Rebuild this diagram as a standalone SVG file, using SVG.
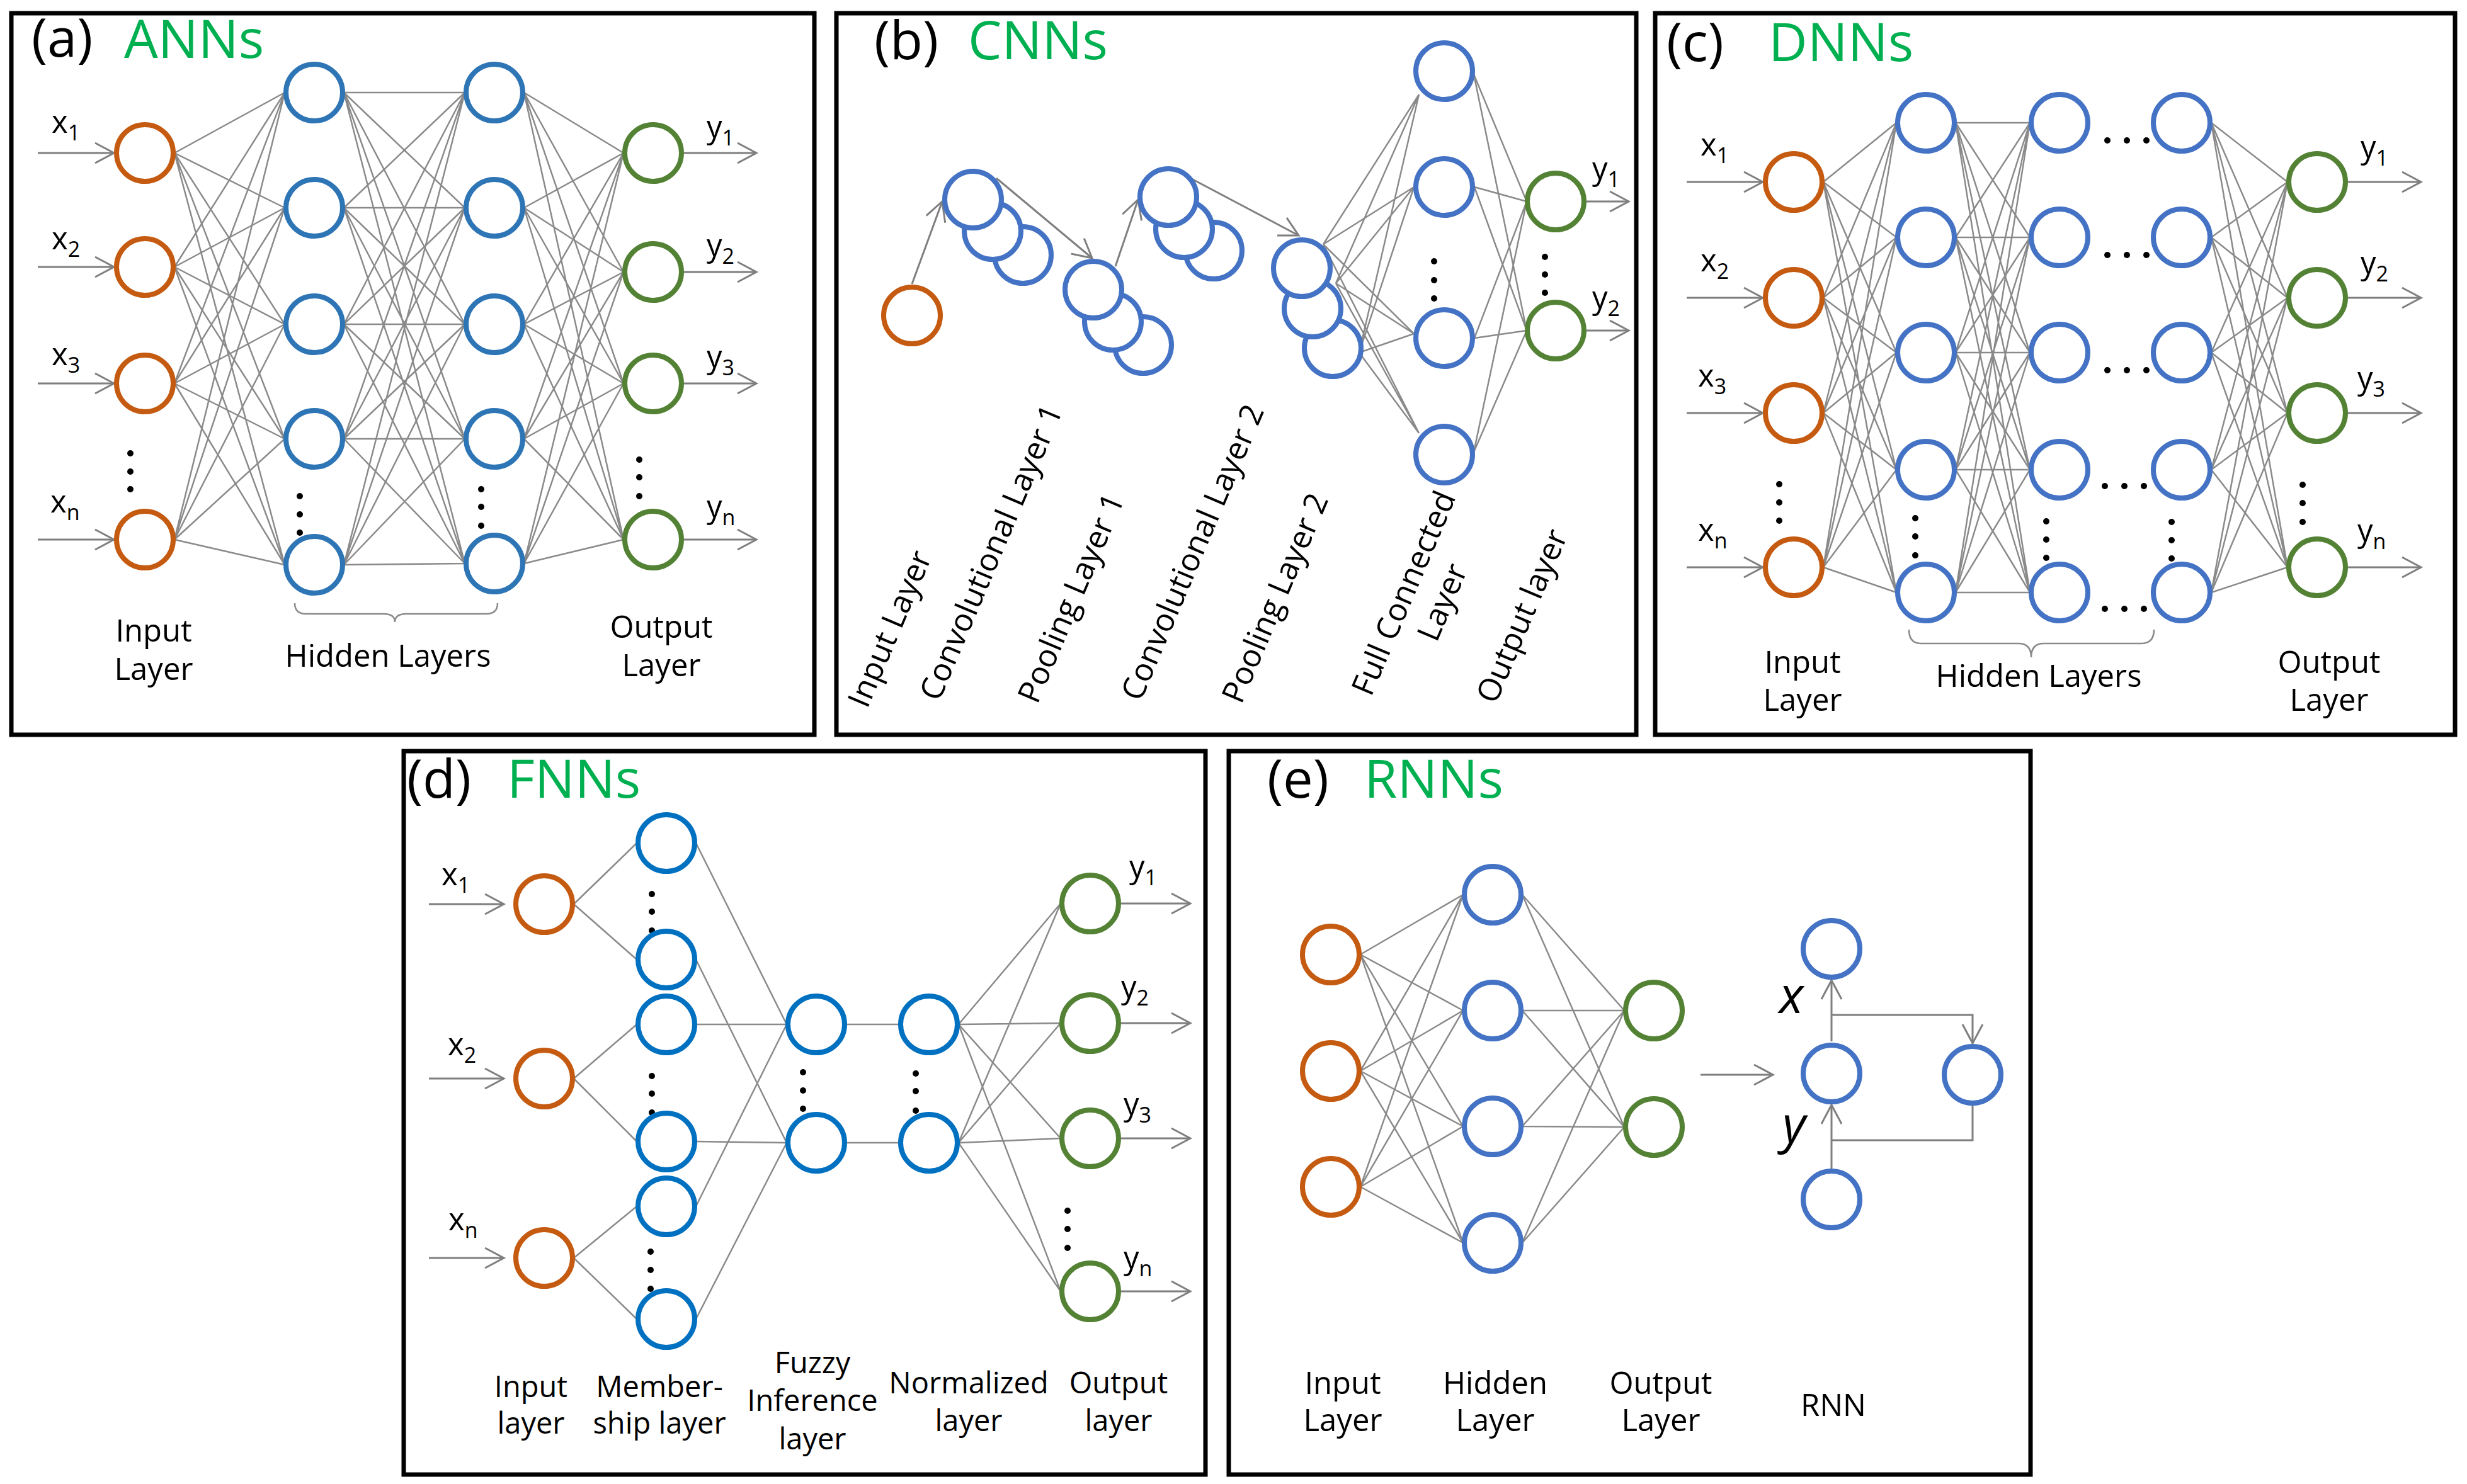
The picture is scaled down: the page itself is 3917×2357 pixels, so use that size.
<svg xmlns="http://www.w3.org/2000/svg" width="3917" height="2357" viewBox="0 0 3917 2357">
<defs>
<style>
.frame{fill:none;stroke:#000;stroke-width:7}
.n{fill:#fff;stroke-width:8}
.or{stroke:#C55A11}.ba{stroke:#2E75B6}.bl{stroke:#4472C4}.bd{stroke:#0070C0}.gr{stroke:#548235}
.ln{stroke:#8a8a8a;stroke-width:2.5;fill:none}
.ar{stroke:#7f7f7f;stroke-width:3;fill:none;marker-end:url(#ah)}
.pl{stroke:#7f7f7f;stroke-width:3;fill:none}
.t{font-family:"Open Sans","Noto Sans",sans-serif;font-size:49px;fill:#000}
.c{text-anchor:middle}
.sm{font-size:47px}
.ttl{font-size:85px}
.gt{fill:#00B050}
.sx{font-size:49px}
.it{font-style:italic;font-size:80px}
.rot{font-size:50px}
.dot{fill:#000}
</style>
<marker id="ah" markerUnits="userSpaceOnUse" markerWidth="40" markerHeight="40" refX="32" refY="18" orient="auto" viewBox="0 0 40 36">
<path d="M2 2L32 18L2 34" fill="none" stroke="#7f7f7f" stroke-width="3"/>
</marker>
</defs>
<rect width="3917" height="2357" fill="#fff"/>

<g id="frames">
<rect class="frame" x="18" y="21" width="1275" height="1146"/>
<rect class="frame" x="1328" y="21" width="1270" height="1146"/>
<rect class="frame" x="2628" y="21" width="1270" height="1146"/>
<rect class="frame" x="641" y="1193" width="1273" height="1149"/>
<rect class="frame" x="1951" y="1193" width="1273" height="1149"/>
</g>

<g id="connectors">
<!-- (a) -->
<path class="ln" d="M277 243L452 147M277 243L452 330M277 243L452 515M277 243L452 697M277 243L452 897M277 424L452 147M277 424L452 330M277 424L452 515M277 424L452 697M277 424L452 897M277 609L452 147M277 609L452 330M277 609L452 515M277 609L452 697M277 609L452 897M277 857L452 147M277 857L452 330M277 857L452 515M277 857L452 697M277 857L452 897"/>
<path class="ln" d="M546 147L738 147M546 147L738 330M546 147L738 515M546 147L738 697M546 147L738 895M546 330L738 147M546 330L738 330M546 330L738 515M546 330L738 697M546 330L738 895M546 515L738 147M546 515L738 330M546 515L738 515M546 515L738 697M546 515L738 895M546 697L738 147M546 697L738 330M546 697L738 515M546 697L738 697M546 697L738 895M546 897L738 147M546 897L738 330M546 897L738 515M546 897L738 697M546 897L738 895"/>
<path class="ln" d="M832 147L990 243M832 147L990 432M832 147L990 609M832 147L990 857M832 330L990 243M832 330L990 432M832 330L990 609M832 330L990 857M832 515L990 243M832 515L990 432M832 515L990 609M832 515L990 857M832 697L990 243M832 697L990 432M832 697L990 609M832 697L990 857M832 895L990 243M832 895L990 432M832 895L990 609M832 895L990 857"/>
<path class="ar" d="M60 243L181 243"/><path class="ar" d="M60 424L181 424"/><path class="ar" d="M60 609L181 609"/><path class="ar" d="M60 857L181 857"/>
<path class="ar" d="M1086 243L1201 243"/><path class="ar" d="M1086 432L1201 432"/><path class="ar" d="M1086 609L1201 609"/><path class="ar" d="M1086 857L1201 857"/>
<path class="ln" d="M468 958Q468 975 486 975L609 975Q627 975 627 988Q627 975 645 975L772 975Q790 975 790 958"/>
<!-- (b) -->
<path class="ar" d="M1448 451L1496 320"/>
<path class="ar" d="M1582 283L1734 410"/>
<path class="ar" d="M1771 423L1807 317"/>
<path class="ar" d="M1892 284L2062 374"/>
<path class="ln" d="M2101 388L2253 150M2101 388L2245 297M2101 388L2245 530M2101 388L2253 688M2121 450L2253 150M2121 450L2245 297M2121 450L2245 530M2121 450L2253 688M2158 560L2253 150M2158 560L2245 297M2158 560L2245 530M2158 560L2253 688"/>
<path class="ln" d="M2340 118L2424 320M2340 118L2424 525M2341 297L2424 320M2341 297L2424 525M2341 537L2424 320M2341 537L2424 525M2340 718L2424 320M2340 718L2424 525"/>
<path class="ar" d="M2519 320L2586 320"/><path class="ar" d="M2519 525L2586 525"/>
<!-- (c) -->
<path class="ln" d="M2895 289L3011 195M2895 289L3011 377M2895 289L3011 560M2895 289L3011 746M2895 289L3011 941M2895 473L3011 195M2895 473L3011 377M2895 473L3011 560M2895 473L3011 746M2895 473L3011 941M2895 656L3011 195M2895 656L3011 377M2895 656L3011 560M2895 656L3011 746M2895 656L3011 941M2895 901L3011 195M2895 901L3011 377M2895 901L3011 560M2895 901L3011 746M2895 901L3011 941"/>
<path class="ln" d="M3105 195L3223 195M3105 195L3223 377M3105 195L3223 560M3105 195L3223 746M3105 195L3223 941M3105 377L3223 195M3105 377L3223 377M3105 377L3223 560M3105 377L3223 746M3105 377L3223 941M3105 560L3223 195M3105 560L3223 377M3105 560L3223 560M3105 560L3223 746M3105 560L3223 941M3105 746L3223 195M3105 746L3223 377M3105 746L3223 560M3105 746L3223 746M3105 746L3223 941M3105 941L3223 195M3105 941L3223 377M3105 941L3223 560M3105 941L3223 746M3105 941L3223 941"/>
<path class="ln" d="M3511 195L3632 289M3511 195L3632 473M3511 195L3632 656M3511 195L3632 901M3511 377L3632 289M3511 377L3632 473M3511 377L3632 656M3511 377L3632 901M3511 560L3632 289M3511 560L3632 473M3511 560L3632 656M3511 560L3632 901M3511 746L3632 289M3511 746L3632 473M3511 746L3632 656M3511 746L3632 901M3511 941L3632 289M3511 941L3632 473M3511 941L3632 656M3511 941L3632 901"/>
<path class="ar" d="M2678 289L2799 289"/><path class="ar" d="M2678 473L2799 473"/><path class="ar" d="M2678 656L2799 656"/><path class="ar" d="M2678 901L2799 901"/>
<path class="ar" d="M3728 289L3844 289"/><path class="ar" d="M3728 473L3844 473"/><path class="ar" d="M3728 656L3844 656"/><path class="ar" d="M3728 901L3844 901"/>
<path class="ln" d="M3031 1000Q3031 1022 3050 1022L3205 1022Q3225 1022 3225 1044Q3225 1022 3245 1022L3400 1022Q3420 1022 3420 1000"/>
<!-- (d) -->
<path class="ln" d="M911 1436L1011 1339M911 1436L1011 1524M911 1713L1011 1627M911 1713L1011 1813M911 1998L1011 1916M911 1998L1011 2095"/>
<path class="ln" d="M1105 1339L1249 1627M1105 1524L1249 1815M1105 1627L1249 1627M1105 1813L1249 1815M1105 1916L1249 1627M1105 2095L1249 1815"/>
<path class="ln" d="M1343 1627L1428 1627M1343 1815L1428 1815"/>
<path class="ln" d="M1522 1627L1684 1435M1522 1627L1684 1625M1522 1627L1684 1808M1522 1627L1684 2051M1522 1815L1684 1435M1522 1815L1684 1625M1522 1815L1684 1808M1522 1815L1684 2051"/>
<path class="ar" d="M681 1436L800 1436"/><path class="ar" d="M681 1713L800 1713"/><path class="ar" d="M681 1998L800 1998"/>
<path class="ar" d="M1780 1435L1890 1435"/><path class="ar" d="M1780 1625L1890 1625"/><path class="ar" d="M1780 1808L1890 1808"/><path class="ar" d="M1780 2051L1890 2051"/>
<!-- (e) -->
<path class="ln" d="M2160 1516L2323 1421M2160 1516L2323 1605M2160 1516L2323 1789M2160 1516L2323 1974M2160 1701L2323 1421M2160 1701L2323 1605M2160 1701L2323 1789M2160 1701L2323 1974M2160 1885L2323 1421M2160 1885L2323 1605M2160 1885L2323 1789M2160 1885L2323 1974"/>
<path class="ln" d="M2417 1421L2579 1605M2417 1421L2579 1790M2417 1605L2579 1605M2417 1605L2579 1790M2417 1789L2579 1605M2417 1789L2579 1790M2417 1974L2579 1605M2417 1974L2579 1790"/>
<path class="ar" d="M2700 1707L2815 1707"/>
<path class="ar" d="M2908 1654L2908 1557"/>
<path class="ar" d="M2908 1612L3132 1612L3132 1657"/>
<path class="pl" d="M3132 1756L3132 1811L2908 1811"/>
<path class="ar" d="M2908 1857L2908 1755"/>
</g>

<g id="dots">
<circle class="dot" cx="207" cy="720" r="5"/><circle class="dot" cx="207" cy="749" r="5"/><circle class="dot" cx="207" cy="777" r="5"/>
<circle class="dot" cx="476" cy="788" r="5"/><circle class="dot" cx="476" cy="817" r="5"/><circle class="dot" cx="476" cy="846" r="5"/>
<circle class="dot" cx="764" cy="777" r="5"/><circle class="dot" cx="764" cy="805" r="5"/><circle class="dot" cx="764" cy="835" r="5"/>
<circle class="dot" cx="1015" cy="730" r="5"/><circle class="dot" cx="1015" cy="758" r="5"/><circle class="dot" cx="1015" cy="788" r="5"/>
<circle class="dot" cx="2277" cy="415" r="5"/><circle class="dot" cx="2277" cy="445" r="5"/><circle class="dot" cx="2277" cy="474" r="5"/>
<circle class="dot" cx="2453" cy="408" r="5"/><circle class="dot" cx="2453" cy="436" r="5"/><circle class="dot" cx="2453" cy="465" r="5"/>
<circle class="dot" cx="2825" cy="769" r="5"/><circle class="dot" cx="2825" cy="798" r="5"/><circle class="dot" cx="2825" cy="827" r="5"/>
<circle class="dot" cx="3041" cy="823" r="5"/><circle class="dot" cx="3041" cy="852" r="5"/><circle class="dot" cx="3041" cy="882" r="5"/>
<circle class="dot" cx="3249" cy="828" r="5"/><circle class="dot" cx="3249" cy="857" r="5"/><circle class="dot" cx="3249" cy="886" r="5"/>
<circle class="dot" cx="3448" cy="829" r="5"/><circle class="dot" cx="3448" cy="858" r="5"/><circle class="dot" cx="3448" cy="887" r="5"/>
<circle class="dot" cx="3656" cy="770" r="5"/><circle class="dot" cx="3656" cy="799" r="5"/><circle class="dot" cx="3656" cy="829" r="5"/>
<circle class="dot" cx="3346" cy="223" r="5"/><circle class="dot" cx="3377" cy="223" r="5"/><circle class="dot" cx="3408" cy="223" r="5"/>
<circle class="dot" cx="3346" cy="405" r="5"/><circle class="dot" cx="3377" cy="405" r="5"/><circle class="dot" cx="3408" cy="405" r="5"/>
<circle class="dot" cx="3346" cy="588" r="5"/><circle class="dot" cx="3377" cy="588" r="5"/><circle class="dot" cx="3408" cy="588" r="5"/>
<circle class="dot" cx="3342" cy="772" r="5"/><circle class="dot" cx="3373" cy="772" r="5"/><circle class="dot" cx="3404" cy="772" r="5"/>
<circle class="dot" cx="3342" cy="967" r="5"/><circle class="dot" cx="3373" cy="967" r="5"/><circle class="dot" cx="3404" cy="967" r="5"/>
<circle class="dot" cx="1035" cy="1420" r="5"/><circle class="dot" cx="1035" cy="1448" r="5"/><circle class="dot" cx="1035" cy="1478" r="5"/>
<circle class="dot" cx="1035" cy="1709" r="5"/><circle class="dot" cx="1035" cy="1737" r="5"/><circle class="dot" cx="1035" cy="1767" r="5"/>
<circle class="dot" cx="1033" cy="1988" r="5"/><circle class="dot" cx="1033" cy="2017" r="5"/><circle class="dot" cx="1033" cy="2047" r="5"/>
<circle class="dot" cx="1275" cy="1703" r="5"/><circle class="dot" cx="1275" cy="1732" r="5"/><circle class="dot" cx="1275" cy="1761" r="5"/>
<circle class="dot" cx="1454" cy="1705" r="5"/><circle class="dot" cx="1454" cy="1733" r="5"/><circle class="dot" cx="1454" cy="1764" r="5"/>
<circle class="dot" cx="1695" cy="1923" r="5"/><circle class="dot" cx="1695" cy="1952" r="5"/><circle class="dot" cx="1695" cy="1982" r="5"/>
</g>

<!-- (a) nodes -->
<g id="a-in1"><circle class="n or" cx="230" cy="243" r="45"/></g>
<g id="a-in2"><circle class="n or" cx="230" cy="424" r="45"/></g>
<g id="a-in3"><circle class="n or" cx="230" cy="609" r="45"/></g>
<g id="a-in4"><circle class="n or" cx="230" cy="857" r="45"/></g>
<g id="a-h1-1"><circle class="n ba" cx="499" cy="147" r="45"/></g>
<g id="a-h1-2"><circle class="n ba" cx="499" cy="330" r="45"/></g>
<g id="a-h1-3"><circle class="n ba" cx="499" cy="515" r="45"/></g>
<g id="a-h1-4"><circle class="n ba" cx="499" cy="697" r="45"/></g>
<g id="a-h1-5"><circle class="n ba" cx="499" cy="897" r="45"/></g>
<g id="a-h2-1"><circle class="n ba" cx="785" cy="147" r="45"/></g>
<g id="a-h2-2"><circle class="n ba" cx="785" cy="330" r="45"/></g>
<g id="a-h2-3"><circle class="n ba" cx="785" cy="515" r="45"/></g>
<g id="a-h2-4"><circle class="n ba" cx="785" cy="697" r="45"/></g>
<g id="a-h2-5"><circle class="n ba" cx="785" cy="895" r="45"/></g>
<g id="a-out1"><circle class="n gr" cx="1037" cy="243" r="45"/></g>
<g id="a-out2"><circle class="n gr" cx="1037" cy="432" r="45"/></g>
<g id="a-out3"><circle class="n gr" cx="1037" cy="609" r="45"/></g>
<g id="a-out4"><circle class="n gr" cx="1037" cy="857" r="45"/></g>

<!-- (b) nodes -->
<g id="b-in"><circle class="n or" cx="1448" cy="501" r="45"/></g>
<g id="b-conv1"><circle class="n bl" cx="1624" cy="405" r="45"/><circle class="n bl" cx="1576" cy="367" r="45"/><circle class="n bl" cx="1545" cy="317" r="45"/></g>
<g id="b-pool1"><circle class="n bl" cx="1815" cy="548" r="45"/><circle class="n bl" cx="1767" cy="511" r="45"/><circle class="n bl" cx="1736" cy="460" r="45"/></g>
<g id="b-conv2"><circle class="n bl" cx="1927" cy="398" r="45"/><circle class="n bl" cx="1880" cy="364" r="45"/><circle class="n bl" cx="1855" cy="313" r="45"/></g>
<g id="b-pool2"><circle class="n bl" cx="2116" cy="553" r="45"/><circle class="n bl" cx="2084" cy="490" r="45"/><circle class="n bl" cx="2067" cy="426" r="45"/></g>
<g id="b-fc1"><circle class="n bl" cx="2293" cy="113" r="45"/></g>
<g id="b-fc2"><circle class="n bl" cx="2293" cy="297" r="45"/></g>
<g id="b-fc3"><circle class="n bl" cx="2293" cy="537" r="45"/></g>
<g id="b-fc4"><circle class="n bl" cx="2293" cy="722" r="45"/></g>
<g id="b-out1"><circle class="n gr" cx="2470" cy="320" r="45"/></g>
<g id="b-out2"><circle class="n gr" cx="2470" cy="525" r="45"/></g>

<!-- (c) nodes -->
<g id="c-in1"><circle class="n or" cx="2848" cy="289" r="45"/></g>
<g id="c-in2"><circle class="n or" cx="2848" cy="473" r="45"/></g>
<g id="c-in3"><circle class="n or" cx="2848" cy="656" r="45"/></g>
<g id="c-in4"><circle class="n or" cx="2848" cy="901" r="45"/></g>
<g id="c-h1-1"><circle class="n bl" cx="3058" cy="195" r="45"/></g>
<g id="c-h1-2"><circle class="n bl" cx="3058" cy="377" r="45"/></g>
<g id="c-h1-3"><circle class="n bl" cx="3058" cy="560" r="45"/></g>
<g id="c-h1-4"><circle class="n bl" cx="3058" cy="746" r="45"/></g>
<g id="c-h1-5"><circle class="n bl" cx="3058" cy="941" r="45"/></g>
<g id="c-h2-1"><circle class="n bl" cx="3270" cy="195" r="45"/></g>
<g id="c-h2-2"><circle class="n bl" cx="3270" cy="377" r="45"/></g>
<g id="c-h2-3"><circle class="n bl" cx="3270" cy="560" r="45"/></g>
<g id="c-h2-4"><circle class="n bl" cx="3270" cy="746" r="45"/></g>
<g id="c-h2-5"><circle class="n bl" cx="3270" cy="941" r="45"/></g>
<g id="c-h3-1"><circle class="n bl" cx="3464" cy="195" r="45"/></g>
<g id="c-h3-2"><circle class="n bl" cx="3464" cy="377" r="45"/></g>
<g id="c-h3-3"><circle class="n bl" cx="3464" cy="560" r="45"/></g>
<g id="c-h3-4"><circle class="n bl" cx="3464" cy="746" r="45"/></g>
<g id="c-h3-5"><circle class="n bl" cx="3464" cy="941" r="45"/></g>
<g id="c-out1"><circle class="n gr" cx="3679" cy="289" r="45"/></g>
<g id="c-out2"><circle class="n gr" cx="3679" cy="473" r="45"/></g>
<g id="c-out3"><circle class="n gr" cx="3679" cy="656" r="45"/></g>
<g id="c-out4"><circle class="n gr" cx="3679" cy="901" r="45"/></g>

<!-- (d) nodes -->
<g id="d-in1"><circle class="n or" cx="864" cy="1436" r="45"/></g>
<g id="d-in2"><circle class="n or" cx="864" cy="1713" r="45"/></g>
<g id="d-in3"><circle class="n or" cx="864" cy="1998" r="45"/></g>
<g id="d-m1"><circle class="n bd" cx="1058" cy="1339" r="45"/></g>
<g id="d-m2"><circle class="n bd" cx="1058" cy="1524" r="45"/></g>
<g id="d-m3"><circle class="n bd" cx="1058" cy="1627" r="45"/></g>
<g id="d-m4"><circle class="n bd" cx="1058" cy="1813" r="45"/></g>
<g id="d-m5"><circle class="n bd" cx="1058" cy="1916" r="45"/></g>
<g id="d-m6"><circle class="n bd" cx="1058" cy="2095" r="45"/></g>
<g id="d-f1"><circle class="n bd" cx="1296" cy="1627" r="45"/></g>
<g id="d-f2"><circle class="n bd" cx="1296" cy="1815" r="45"/></g>
<g id="d-n1"><circle class="n bd" cx="1475" cy="1627" r="45"/></g>
<g id="d-n2"><circle class="n bd" cx="1475" cy="1815" r="45"/></g>
<g id="d-out1"><circle class="n gr" cx="1731" cy="1435" r="45"/></g>
<g id="d-out2"><circle class="n gr" cx="1731" cy="1625" r="45"/></g>
<g id="d-out3"><circle class="n gr" cx="1731" cy="1808" r="45"/></g>
<g id="d-out4"><circle class="n gr" cx="1731" cy="2051" r="45"/></g>

<!-- (e) nodes -->
<g id="e-in1"><circle class="n or" cx="2113" cy="1516" r="45"/></g>
<g id="e-in2"><circle class="n or" cx="2113" cy="1701" r="45"/></g>
<g id="e-in3"><circle class="n or" cx="2113" cy="1885" r="45"/></g>
<g id="e-h1"><circle class="n bl" cx="2370" cy="1421" r="45"/></g>
<g id="e-h2"><circle class="n bl" cx="2370" cy="1605" r="45"/></g>
<g id="e-h3"><circle class="n bl" cx="2370" cy="1789" r="45"/></g>
<g id="e-h4"><circle class="n bl" cx="2370" cy="1974" r="45"/></g>
<g id="e-out1"><circle class="n gr" cx="2626" cy="1605" r="45"/></g>
<g id="e-out2"><circle class="n gr" cx="2626" cy="1790" r="45"/></g>
<g id="e-rnn-top"><circle class="n bl" cx="2908" cy="1507" r="45"/></g>
<g id="e-rnn-mid"><circle class="n bl" cx="2908" cy="1705" r="45"/></g>
<g id="e-rnn-right"><circle class="n bl" cx="3132" cy="1707" r="45"/></g>
<g id="e-rnn-bottom"><circle class="n bl" cx="2908" cy="1905" r="45"/></g>

<g id="labels" class="t">
<!-- titles -->
<text class="t ttl" x="50" y="90">(a)</text><text class="t ttl gt" x="197" y="92">ANNs</text>
<text class="t ttl" x="1388" y="94">(b)</text><text class="t ttl gt" x="1537" y="94">CNNs</text>
<text class="t ttl" x="2646" y="97">(c)</text><text class="t ttl gt" x="2808" y="97">DNNs</text>
<text class="t ttl" x="646" y="1267">(d)</text><text class="t ttl gt" x="805" y="1267">FNNs</text>
<text class="t ttl" x="2012" y="1267">(e)</text><text class="t ttl gt" x="2166" y="1267">RNNs</text>
<!-- (a) -->
<text class="t sx" x="82" y="211">x<tspan font-size="34" dy="12">1</tspan></text>
<text class="t sx" x="82" y="396">x<tspan font-size="34" dy="12">2</tspan></text>
<text class="t sx" x="82" y="580">x<tspan font-size="34" dy="12">3</tspan></text>
<text class="t sx" x="80" y="814">x<tspan font-size="34" dy="12">n</tspan></text>
<text class="t sx" x="1122" y="219">y<tspan font-size="34" dy="12">1</tspan></text>
<text class="t sx" x="1122" y="407">y<tspan font-size="34" dy="12">2</tspan></text>
<text class="t sx" x="1122" y="584">y<tspan font-size="34" dy="12">3</tspan></text>
<text class="t sx" x="1122" y="822">y<tspan font-size="34" dy="12">n</tspan></text>
<text class="t c"><tspan x="244" y="1019">Input</tspan><tspan x="244" y="1080">Layer</tspan></text>
<text class="t c" x="616" y="1059">Hidden Layers</text>
<text class="t c"><tspan x="1050" y="1013">Output</tspan><tspan x="1050" y="1074">Layer</tspan></text>
<!-- (b) -->
<text class="t sx" x="2528" y="285">y<tspan font-size="34" dy="12">1</tspan></text>
<text class="t sx" x="2528" y="490">y<tspan font-size="34" dy="12">2</tspan></text>
<text class="t rot" transform="translate(1377 1127) rotate(-67)">Input Layer</text>
<text class="t rot" transform="translate(1491 1116) rotate(-67)">Convolutional Layer 1</text>
<text class="t rot" transform="translate(1647 1120) rotate(-67)">Pooling Layer 1</text>
<text class="t rot" transform="translate(1811 1116) rotate(-67)">Convolutional Layer 2</text>
<text class="t rot" transform="translate(1971 1120) rotate(-67)">Pooling Layer 2</text>
<text class="t rot" transform="translate(2177 1108) rotate(-67)"><tspan x="0" y="0">Full Connected</tspan><tspan x="120" y="62">Layer</tspan></text>
<text class="t rot" transform="translate(2375 1120) rotate(-67)">Output layer</text>
<!-- (c) -->
<text class="t sx" x="2700" y="247">x<tspan font-size="34" dy="12">1</tspan></text>
<text class="t sx" x="2700" y="431">x<tspan font-size="34" dy="12">2</tspan></text>
<text class="t sx" x="2696" y="614">x<tspan font-size="34" dy="12">3</tspan></text>
<text class="t sx" x="2696" y="859">x<tspan font-size="34" dy="12">n</tspan></text>
<text class="t sx" x="3748" y="251">y<tspan font-size="34" dy="12">1</tspan></text>
<text class="t sx" x="3748" y="435">y<tspan font-size="34" dy="12">2</tspan></text>
<text class="t sx" x="3743" y="618">y<tspan font-size="34" dy="12">3</tspan></text>
<text class="t sx" x="3743" y="860">y<tspan font-size="34" dy="12">n</tspan></text>
<text class="t c"><tspan x="2862" y="1069">Input</tspan><tspan x="2862" y="1129">Layer</tspan></text>
<text class="t c" x="3237" y="1091">Hidden Layers</text>
<text class="t c"><tspan x="3698" y="1069">Output</tspan><tspan x="3698" y="1129">Layer</tspan></text>
<!-- (d) -->
<text class="t sx" x="701" y="1406">x<tspan font-size="34" dy="12">1</tspan></text>
<text class="t sx" x="711" y="1676">x<tspan font-size="34" dy="12">2</tspan></text>
<text class="t sx" x="712" y="1954">x<tspan font-size="34" dy="12">n</tspan></text>
<text class="t sx" x="1793" y="1394">y<tspan font-size="34" dy="12">1</tspan></text>
<text class="t sx" x="1780" y="1585">y<tspan font-size="34" dy="12">2</tspan></text>
<text class="t sx" x="1784" y="1771">y<tspan font-size="34" dy="12">3</tspan></text>
<text class="t sx" x="1784" y="2015">y<tspan font-size="34" dy="12">n</tspan></text>
<text class="t c sm"><tspan x="843" y="2219">Input</tspan><tspan x="843" y="2277">layer</tspan></text>
<text class="t c sm"><tspan x="1047" y="2219">Member-</tspan><tspan x="1047" y="2277">ship layer</tspan></text>
<text class="t c sm"><tspan x="1290" y="2181">Fuzzy</tspan><tspan x="1290" y="2241">Inference</tspan><tspan x="1290" y="2302">layer</tspan></text>
<text class="t c sm"><tspan x="1538" y="2213">Normalized</tspan><tspan x="1538" y="2273">layer</tspan></text>
<text class="t c sm"><tspan x="1776" y="2213">Output</tspan><tspan x="1776" y="2273">layer</tspan></text>
<!-- (e) -->
<text class="t it" x="2825" y="1609">x</text>
<text class="t it" x="2830" y="1815">y</text>
<text class="t c"><tspan x="2132" y="2214">Input</tspan><tspan x="2132" y="2273">Layer</tspan></text>
<text class="t c"><tspan x="2374" y="2214">Hidden</tspan><tspan x="2374" y="2273">Layer</tspan></text>
<text class="t c"><tspan x="2637" y="2214">Output</tspan><tspan x="2637" y="2273">Layer</tspan></text>
<text class="t c" x="2911" y="2249">RNN</text>
</g>
</svg>
